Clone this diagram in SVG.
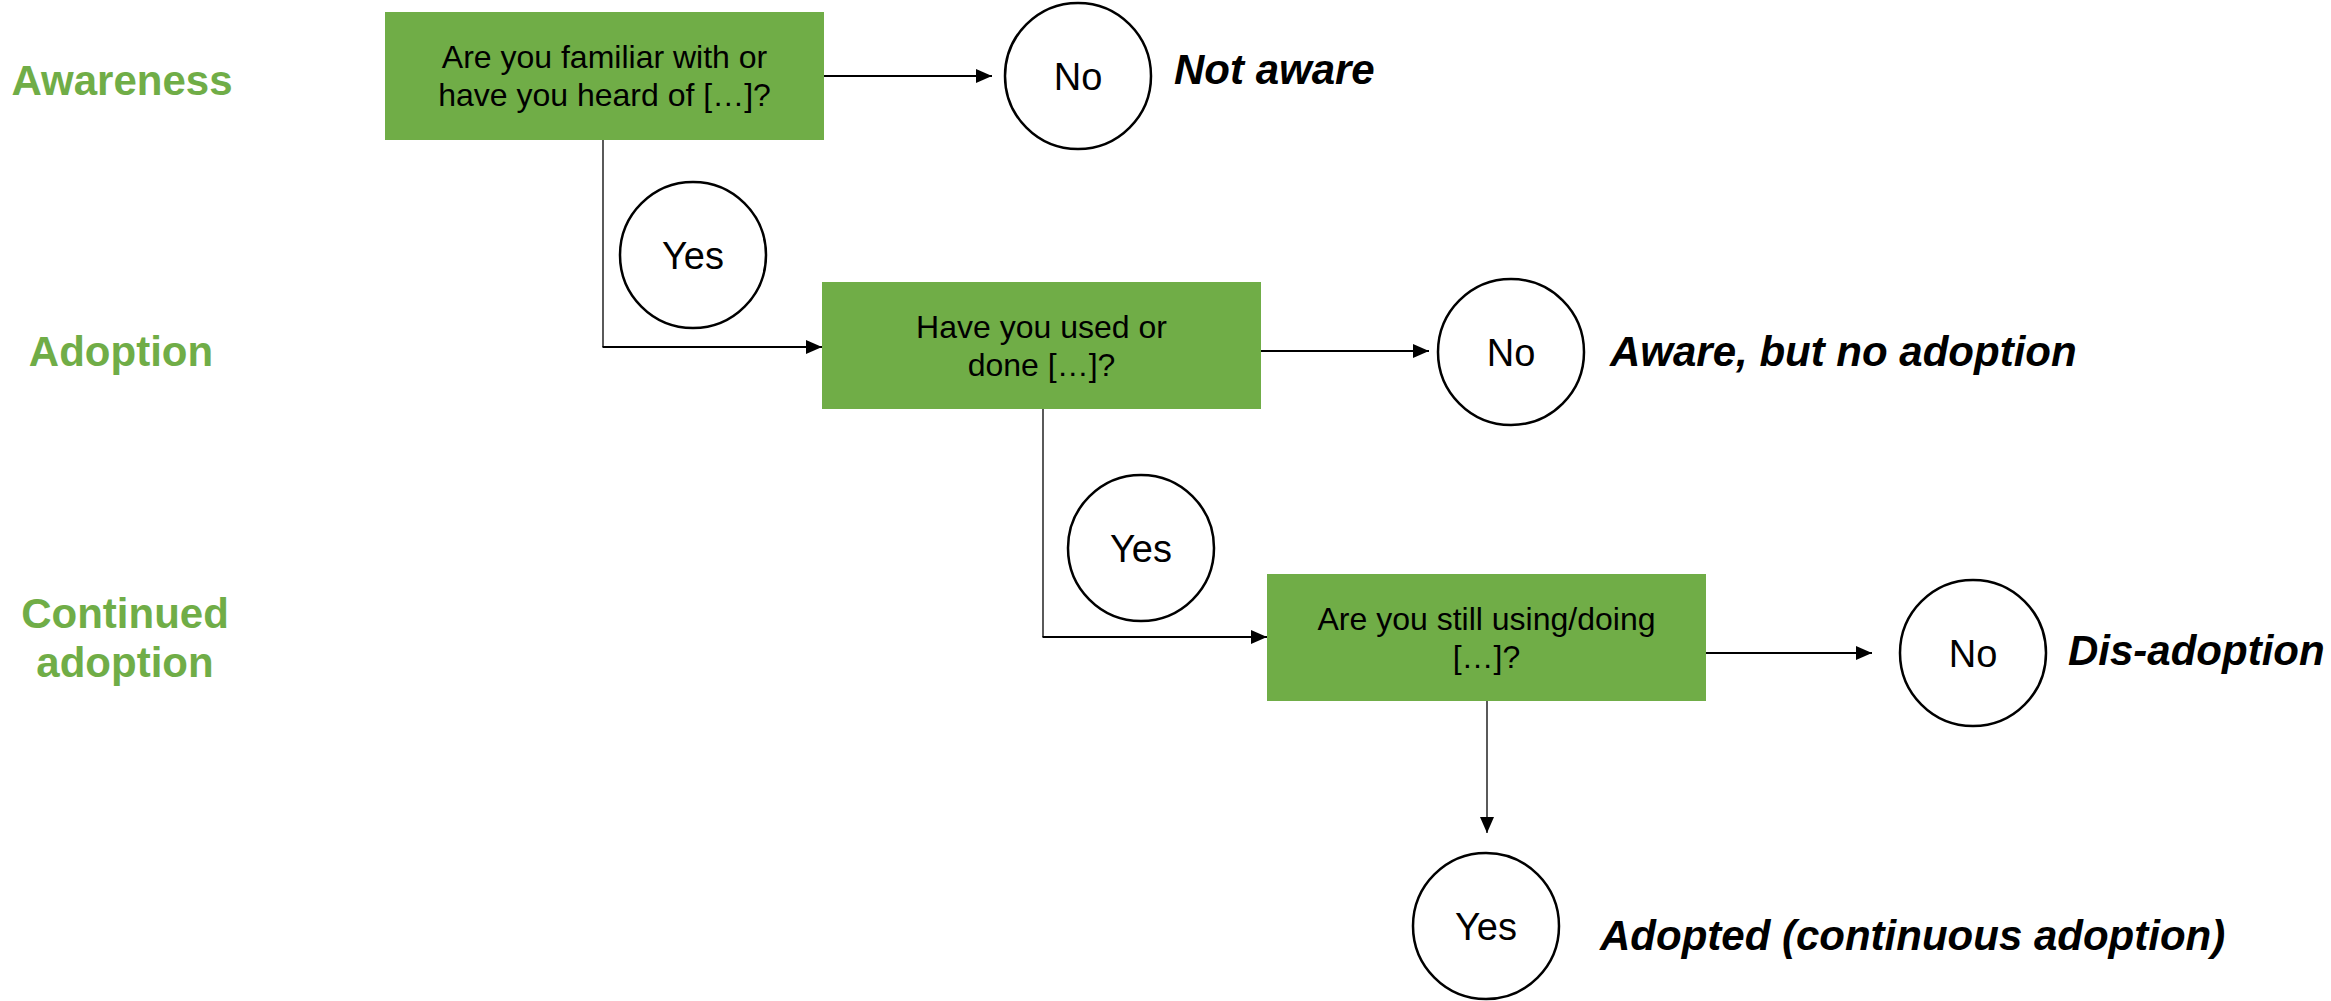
<svg xmlns="http://www.w3.org/2000/svg" width="2331" height="1001" viewBox="0 0 2331 1001">
<style>
.stage{font-family:"Liberation Sans",Arial,sans-serif;font-weight:bold;font-size:42px;fill:#70AD47;text-anchor:middle}
.box{fill:#70AD47}
.btxt{font-family:"Liberation Sans",Arial,sans-serif;font-size:32px;fill:#000;text-anchor:middle}
.circ{fill:#fff;stroke:#000;stroke-width:2.5}
.ctxt{font-family:"Liberation Sans",Arial,sans-serif;font-size:38px;fill:#000;text-anchor:middle}
.out{font-family:"Liberation Sans",Arial,sans-serif;font-size:42px;font-weight:bold;font-style:italic;fill:#000}
.conn{fill:none;stroke:#000;stroke-width:2.2}
.thin{fill:none;stroke:#000;stroke-width:1.3}
</style>
<defs>
<marker id="arr" markerUnits="userSpaceOnUse" markerWidth="17" markerHeight="15" refX="16" refY="7" orient="auto">
<path d="M0,0 L16,7 L0,14 z" fill="#000"/>
</marker>
</defs>
<rect width="2331" height="1001" fill="#fff"/>
<g id="stages">
<text class="stage" x="122" y="95">Awareness</text>
<text class="stage" x="121" y="366">Adoption</text>
<text class="stage" x="125" y="628">Continued</text>
<text class="stage" x="125" y="677">adoption</text>
</g>
<g id="connectors">
<line class="conn" x1="824" y1="76" x2="992" y2="76" marker-end="url(#arr)"/>
<line class="thin" x1="603" y1="140" x2="603" y2="347"/>
<line class="conn" x1="602.5" y1="347" x2="822" y2="347" marker-end="url(#arr)"/>
<line class="conn" x1="1261" y1="351" x2="1429" y2="351" marker-end="url(#arr)"/>
<line class="thin" x1="1043" y1="409" x2="1043" y2="637"/>
<line class="conn" x1="1042.5" y1="637" x2="1267" y2="637" marker-end="url(#arr)"/>
<line class="conn" x1="1706" y1="653" x2="1872" y2="653" marker-end="url(#arr)"/>
<line class="thin" x1="1487" y1="701" x2="1487" y2="833" marker-end="url(#arr)"/>
</g>
<g id="q1">
<rect class="box" x="385" y="12" width="439" height="128"/>
<text class="btxt" x="604.5" y="68">Are you familiar with or</text>
<text class="btxt" x="604.5" y="106">have you heard of […]?</text>
</g>
<g id="no1">
<circle class="circ" cx="1078" cy="76" r="73"/>
<text class="ctxt" x="1078" y="90">No</text>
</g>
<g id="out1"><text class="out" x="1174" y="84">Not aware</text></g>
<g id="yes1">
<circle class="circ" cx="693" cy="255" r="73"/>
<text class="ctxt" x="693" y="269">Yes</text>
</g>
<g id="q2">
<rect class="box" x="822" y="282" width="439" height="127"/>
<text class="btxt" x="1041.5" y="338">Have you used or</text>
<text class="btxt" x="1041.5" y="376">done […]?</text>
</g>
<g id="no2">
<circle class="circ" cx="1511" cy="352" r="73"/>
<text class="ctxt" x="1511" y="366">No</text>
</g>
<g id="out2"><text class="out" x="1610" y="366">Aware, but no adoption</text></g>
<g id="yes2">
<circle class="circ" cx="1141" cy="548" r="73"/>
<text class="ctxt" x="1141" y="562">Yes</text>
</g>
<g id="q3">
<rect class="box" x="1267" y="574" width="439" height="127"/>
<text class="btxt" x="1486.5" y="630">Are you still using/doing</text>
<text class="btxt" x="1486.5" y="668">[…]?</text>
</g>
<g id="no3">
<circle class="circ" cx="1973" cy="653" r="73"/>
<text class="ctxt" x="1973" y="667">No</text>
</g>
<g id="out3"><text class="out" x="2068" y="665">Dis-adoption</text></g>
<g id="yes3">
<circle class="circ" cx="1486" cy="926" r="73"/>
<text class="ctxt" x="1486" y="940">Yes</text>
</g>
<g id="out4"><text class="out" x="1600" y="950">Adopted (continuous adoption)</text></g>
</svg>
